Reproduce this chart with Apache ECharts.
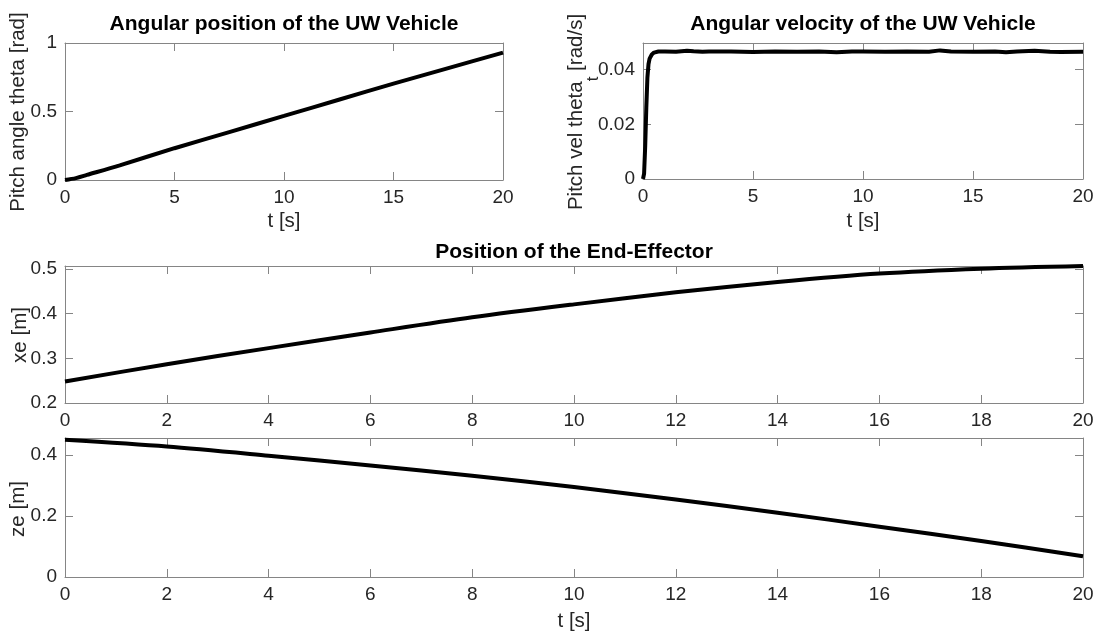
<!DOCTYPE html>
<html>
<head>
<meta charset="utf-8">
<script src="https://cdn.jsdelivr.net/npm/echarts@6/dist/echarts.min.js"></script>
<style>
  html, body { margin: 0; padding: 0; background: #ffffff; }
  #chart { width: 1104px; height: 638px; }
</style>
</head>
<body>
<div id="chart"></div>
<script>
// Pitch angle of the vehicle [rad] over time [s]
const thetaTime  = [0, 0.5, 1, 2.5, 5, 7.5, 10, 12.5, 15, 17.5, 20];
const thetaValue = [0, 0.014, 0.037, 0.107, 0.232, 0.350, 0.468, 0.586, 0.703, 0.817, 0.930];

// Pitch velocity [rad/s] over time [s]
const velTime  = [0, 0.05, 0.1, 0.15, 0.2, 0.25, 0.3, 0.4, 0.5, 0.7, 1, 1.5, 2, 2.3, 2.7, 3, 4, 5, 6, 7, 8, 8.8, 9.5, 10, 11, 12, 13, 13.5, 14, 15, 16, 16.5, 17, 17.8, 18.5, 19, 20];
const velValue = [0, 0.002, 0.012, 0.026, 0.037, 0.042, 0.0440, 0.0455, 0.0462, 0.0466, 0.0466, 0.0465, 0.0469, 0.0467, 0.0465, 0.0466, 0.0466, 0.0464, 0.0466, 0.0465, 0.0466, 0.0463, 0.0466, 0.0466, 0.0465, 0.0466, 0.0465, 0.0470, 0.0466, 0.0465, 0.0466, 0.0463, 0.0466, 0.0469, 0.0465, 0.0464, 0.0465];

// End-effector position xe, ze [m] over time [s]
const posTime = [0, 2, 4, 6, 8, 10, 12, 14, 16, 18, 20];
const xeValue = [0.248, 0.287, 0.323, 0.358, 0.392, 0.421, 0.448, 0.471, 0.490, 0.501, 0.507];
const zeValue = [0.450, 0.428, 0.398, 0.366, 0.332, 0.295, 0.254, 0.211, 0.165, 0.118, 0.068];

// Tick values
const ticksT5    = [0, 5, 10, 15, 20];
const ticksT2    = [0, 2, 4, 6, 8, 10, 12, 14, 16, 18, 20];
const ticksTheta = [0, 0.5, 1];
const ticksVel   = [0, 0.02, 0.04];
const ticksXe    = [0.2, 0.3, 0.4, 0.5];
const ticksZe    = [0, 0.2, 0.4];

const FONT = '"Liberation Sans", Arial, Helvetica, sans-serif';
const AXIS_GRAY = '#858585';
const TEXT_GRAY = '#262626';

const pairs = (xs, ys) => xs.map((x, i) => [x, ys[i]]);

// One boxed panel: labelled bottom/left axes plus mirrored top/right axes
function axisDef(gi, pos, min, max, ticks, withLabels) {
  return {
    type: 'value', gridIndex: gi, position: pos, min: min, max: max,
    axisLine: { show: true, onZero: false, lineStyle: { color: AXIS_GRAY, width: 1 } },
    axisTick: { show: true, inside: true, length: 8, customValues: ticks,
                lineStyle: { color: AXIS_GRAY, width: 1 } },
    axisLabel: { show: withLabels, customValues: ticks, margin: 8,
                 color: TEXT_GRAY, fontFamily: FONT, fontSize: 19,
                 formatter: v => String(+Number(v).toFixed(3)) },
    splitLine: { show: false }
  };
}

const panels = [
  { grid: { left: 65,  top: 43,  width: 438,  height: 137 }, x: [0, 20, ticksT5], y: [0, 1, ticksTheta],    data: pairs(thetaTime, thetaValue), smooth: 0.3 },
  { grid: { left: 643, top: 43,  width: 440,  height: 136 }, x: [0, 20, ticksT5], y: [0, 0.0497, ticksVel], data: pairs(velTime, velValue),     smooth: false },
  { grid: { left: 65,  top: 266, width: 1018, height: 137 }, x: [0, 20, ticksT2], y: [0.2, 0.507, ticksXe], data: pairs(posTime, xeValue),     smooth: 0.3 },
  { grid: { left: 65,  top: 438, width: 1018, height: 139 }, x: [0, 20, ticksT2], y: [0, 0.456, ticksZe],   data: pairs(posTime, zeValue),     smooth: 0.3 }
];

const grid = [], xAxis = [], yAxis = [], series = [];
panels.forEach((p, gi) => {
  grid.push(Object.assign({ containLabel: false }, p.grid));
  xAxis.push(axisDef(gi, 'bottom', p.x[0], p.x[1], p.x[2], true));
  xAxis.push(axisDef(gi, 'top',    p.x[0], p.x[1], p.x[2], false));
  yAxis.push(axisDef(gi, 'left',   p.y[0], p.y[1], p.y[2], true));
  yAxis.push(axisDef(gi, 'right',  p.y[0], p.y[1], p.y[2], false));
  series.push({
    type: 'line', xAxisIndex: gi * 2, yAxisIndex: gi * 2,
    data: p.data, smooth: p.smooth, showSymbol: false, symbol: 'none',
    lineStyle: { color: '#000000', width: 4 }, silent: true, animation: false
  });
});

function label(x, y, text, opts) {
  opts = opts || {};
  return {
    type: 'text', x: x, y: y, rotation: opts.rotate ? Math.PI / 2 : 0, silent: true,
    style: Object.assign({
      text: text, fill: opts.bold ? '#000000' : TEXT_GRAY,
      font: (opts.bold ? 'bold ' : '') + (opts.size || 20.5) + 'px ' + FONT,
      textAlign: 'center', textVerticalAlign: 'middle'
    }, opts.style || {})
  };
}

const graphic = [
  label(284, 24,  'Angular position of the UW Vehicle', { bold: true, size: 21 }),
  label(863, 24,  'Angular velocity of the UW Vehicle', { bold: true, size: 21 }),
  label(574, 252, 'Position of the End-Effector',       { bold: true, size: 21 }),
  label(284, 221, 't [s]'),
  label(863, 221, 't [s]'),
  label(574, 621, 't [s]'),
  label(18, 112, 'Pitch angle theta [rad]', { rotate: true }),
  label(20, 335, 'xe [m]', { rotate: true }),
  label(18, 509, 'ze [m]', { rotate: true }),
  label(584, 112, '{a|Pitch vel theta}{b|t}{a| [rad/s]}', { rotate: true, style: {
    rich: {
      a: { fontSize: 20.5, fontFamily: FONT, fill: TEXT_GRAY, lineHeight: 36, verticalAlign: 'top' },
      b: { fontSize: 17, fontFamily: FONT, fill: TEXT_GRAY, lineHeight: 36, verticalAlign: 'bottom' }
    }
  } })
];

const chart = echarts.init(document.getElementById('chart'), null, { renderer: 'canvas' });
chart.setOption({
  backgroundColor: '#ffffff',
  animation: false,
  grid: grid, xAxis: xAxis, yAxis: yAxis, series: series,
  graphic: graphic
});
</script>
</body>
</html>
